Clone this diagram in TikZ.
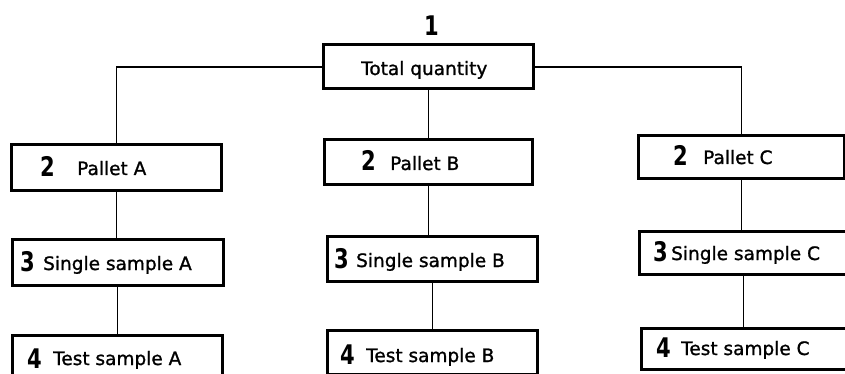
\documentclass[tikz,border=0pt]{standalone}
\usepackage{fontspec}
\usepackage{graphicx}
\setmainfont{DejaVu Sans}
\newfontfamily\lblfont[FakeBold=1.2]{DejaVu Sans}
\newcommand{\dgt}[1]{\scalebox{0.78}[1]{#1}}
\begin{document}
\begin{tikzpicture}[x=1pt,y=-1pt,
  box/.style={draw=black, line width=3pt, rectangle, inner sep=0pt},
  conn/.style={draw=black, line width=1.7pt},
  lbl/.style={anchor=base west, inner sep=0pt, font=\lblfont\fontsize{18.5}{20}\selectfont},
  dig/.style={anchor=base west, inner sep=0pt, font=\fontsize{27}{29}\bfseries}]
\useasboundingbox (0,0) rectangle (845,374);
\clip (0,0) rectangle (845,374);
% boxes
\node[box, minimum width=210pt, minimum height=44pt] (top) at (428.5,67) {};
\node[box, minimum width=210pt, minimum height=45pt] (pa) at (116.5,167.5) {};
\node[box, minimum width=211pt, minimum height=46pt] (sa) at (117.5,262) {};
\node[box, minimum width=210pt, minimum height=45pt] (ta) at (117.5,357.5) {};
\node[box, minimum width=208pt, minimum height=44pt] (pb) at (428.5,162) {};
\node[box, minimum width=210pt, minimum height=45pt] (sb) at (432.5,258.5) {};
\node[box, minimum width=210pt, minimum height=44pt] (tb) at (432.5,352) {};
\node[box, minimum width=206pt, minimum height=43pt] (pc) at (741.5,157.5) {};
\node[box, minimum width=208pt, minimum height=43pt] (sc) at (743.5,252.5) {};
\node[box, minimum width=208pt, minimum height=41pt] (tc) at (745.5,348.5) {};
% connectors
\draw[conn] (top.west) -| (pa.north);
\draw[conn] (top.east) -| (pc.north);
\draw[conn] (top.south) -- (pb.north);
\draw[conn] (pa.south) -- (pa.south |- sa.north);
\draw[conn] (sa.south) -- (sa.south |- ta.north);
\draw[conn] (pb.south) -- (pb.south |- sb.north);
\draw[conn] (sb.south) -- (sb.south |- tb.north);
\draw[conn] (pc.south) -- (pc.south |- sc.north);
\draw[conn] (sc.south) -- (sc.south |- tc.north);
% labels
\node[dig] (n1) at (424,36) {\dgt{1}};
\node[lbl] (ttop) at (361,75) {Total quantity};
\node[dig] (da) at (40,176) {\dgt{2}};
\node[lbl] (tpa) at (77,175) {Pallet A};
\node[dig] (dsa) at (20,271) {\dgt{3}};
\node[lbl] (tsa) at (43,270) {Single sample A};
\node[dig] (dta) at (27,368) {\dgt{4}};
\node[lbl] (tta) at (53,365) {Test sample A};
\node[dig] (db) at (361,171) {\dgt{2}};
\node[lbl] (tpb) at (390,170) {Pallet B};
\node[dig] (dsb) at (334,268) {\dgt{3}};
\node[lbl] (tsb) at (356,267) {Single sample B};
\node[dig] (dtb) at (340,364) {\dgt{4}};
\node[lbl] (ttb) at (366,362) {Test sample B};
\node[dig] (dc) at (673,165) {\dgt{2}};
\node[lbl] (tpc) at (703,164) {Pallet C};
\node[dig] (dsc) at (653,261) {\dgt{3}};
\node[lbl] (tsc) at (671,260) {Single sample C};
\node[dig] (dtc) at (656,357) {\dgt{4}};
\node[lbl] (ttc) at (681,355) {Test sample C};
\end{tikzpicture}
\end{document}
